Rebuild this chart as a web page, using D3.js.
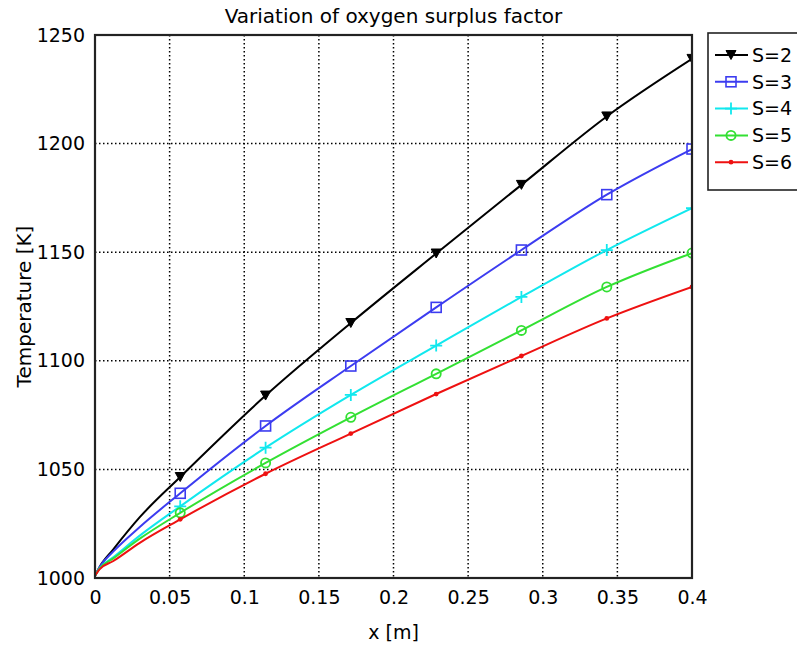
<!DOCTYPE html>
<html>
<head>
<meta charset="utf-8">
<script src="https://cdn.jsdelivr.net/npm/d3@7"></script>
<style>
body { margin: 0; background: #fff; }
text { font-family: "DejaVu Sans", Verdana, sans-serif; fill: #000; }
</style>
</head>
<body>
<script>
// x positions along the tube [m], markers every 0.4/7
var xs = [0, 0.003, 0.012, 0.03, 0.0571, 0.1143, 0.1714, 0.2286, 0.2857, 0.3429, 0.4];
var markerFrom = 4; // first index that carries a marker

var s2 = [1001, 1005, 1013, 1028, 1046.5, 1084, 1117.4, 1149.4, 1181, 1212.5, 1239];
var s3 = [1001, 1005, 1012, 1023.5, 1039, 1070, 1097.6, 1124.6, 1151, 1176.5, 1197.5];
var s4 = [1001, 1004.5, 1009.4, 1019.5, 1033, 1060, 1084.3, 1107, 1129.4, 1151, 1170.3];
var s5 = [1001, 1004.3, 1008.9, 1018.1, 1030, 1053, 1074, 1094, 1114, 1134, 1149.6];
var s6 = [1001, 1004, 1007.7, 1016.2, 1027, 1048, 1066.5, 1084.7, 1102.2, 1119.5, 1134];

var names = ["S=2", "S=3", "S=4", "S=5", "S=6"];
var xTicks = [0, 0.05, 0.1, 0.15, 0.2, 0.25, 0.3, 0.35, 0.4];
var yTicks = [1000, 1050, 1100, 1150, 1200, 1250];

var series = [
  {name: names[0], v: s2, color: "#000000", mark: "tri"},
  {name: names[1], v: s3, color: "#3c3cf0", mark: "sq"},
  {name: names[2], v: s4, color: "#11e8ee", mark: "plus"},
  {name: names[3], v: s5, color: "#33e033", mark: "circ"},
  {name: names[4], v: s6, color: "#ee1111", mark: "dot"}
];

var W = 797, H = 648;
var L = 95, R = 692, T = 35, B = 578;

var x = d3.scaleLinear().domain([0, 0.4]).range([L, R]);
var y = d3.scaleLinear().domain([1000, 1250]).range([B, T]);

var svg = d3.select("body").append("svg")
  .attr("width", W).attr("height", H);

svg.append("defs").append("clipPath").attr("id", "plotclip")
  .append("rect").attr("x", L).attr("y", T).attr("width", R - L).attr("height", B - T);

// grid
var grid = svg.append("g");
grid.selectAll("line.gx")
  .data(xTicks.slice(1, -1))
  .enter().append("line")
    .attr("x1", function(d){ return x(d); }).attr("x2", function(d){ return x(d); })
    .attr("y1", T).attr("y2", B)
    .attr("stroke", "#000").attr("stroke-width", 1.5)
    .attr("stroke-dasharray", "1.5,2.5");
grid.selectAll("line.gy")
  .data(yTicks.slice(1, -1))
  .enter().append("line")
    .attr("y1", function(d){ return y(d); }).attr("y2", function(d){ return y(d); })
    .attr("x1", L).attr("x2", R)
    .attr("stroke", "#000").attr("stroke-width", 1.5)
    .attr("stroke-dasharray", "1.5,2.5");

// axes
var xAxis = d3.axisBottom(x).tickValues(xTicks).tickSize(0).tickPadding(13)
  .tickFormat(function(d){ return String(+d.toFixed(2)); });
var yAxis = d3.axisLeft(y).tickValues(yTicks).tickSize(0).tickPadding(10)
  .tickFormat(d3.format("d"));

var gx = svg.append("g").attr("transform", "translate(0," + B + ")").call(xAxis);
var gy = svg.append("g").attr("transform", "translate(" + L + ",0)").call(yAxis);
[gx, gy].forEach(function(g){
  g.select(".domain").remove();
  g.selectAll("text").style("font-size", "19px").attr("fill", "#000");
});

// curves
var line = d3.line()
  .x(function(d){ return x(d[0]); })
  .y(function(d){ return y(d[1]); })
  .curve(d3.curveMonotoneX);

var plot = svg.append("g").attr("clip-path", "url(#plotclip)");

function drawMarker(g, type, color, cx, cy) {
  if (type == "tri") {
    g.append("path").attr("d", "M" + (cx - 5) + "," + (cy - 4.5) + "L" + (cx + 5) + "," + (cy - 4.5) + "L" + cx + "," + (cy + 4.5) + "Z")
      .attr("fill", color).attr("stroke", color).attr("stroke-width", 1);
  } else if (type == "sq") {
    g.append("rect").attr("x", cx - 5).attr("y", cy - 5).attr("width", 10).attr("height", 10)
      .attr("fill", "none").attr("stroke", color).attr("stroke-width", 1.6);
  } else if (type == "plus") {
    g.append("path").attr("d", "M" + (cx - 6) + "," + cy + "H" + (cx + 6) + "M" + cx + "," + (cy - 6) + "V" + (cy + 6))
      .attr("stroke", color).attr("stroke-width", 1.8);
  } else if (type == "circ") {
    g.append("circle").attr("cx", cx).attr("cy", cy).attr("r", 4.6)
      .attr("fill", "none").attr("stroke", color).attr("stroke-width", 1.8);
  } else {
    g.append("circle").attr("cx", cx).attr("cy", cy).attr("r", 2.4)
      .attr("fill", color);
  }
}

series.forEach(function(s){
  var pts = xs.map(function(xv, i){ return [xv, s.v[i]]; });
  plot.append("path")
    .attr("d", line(pts))
    .attr("fill", "none")
    .attr("stroke", s.color)
    .attr("stroke-width", 2);
  pts.slice(markerFrom).forEach(function(p){
    drawMarker(plot, s.mark, s.color, x(p[0]), y(p[1]));
  });
});

// frame
svg.append("rect")
  .attr("x", L).attr("y", T).attr("width", R - L).attr("height", B - T)
  .attr("fill", "none").attr("stroke", "#222").attr("stroke-width", 2.2);

// titles
svg.append("text").attr("x", (L + R) / 2).attr("y", 23)
  .attr("text-anchor", "middle").style("font-size", "20px")
  .text("Variation of oxygen surplus factor");
svg.append("text").attr("x", (L + R) / 2).attr("y", 639)
  .attr("text-anchor", "middle").style("font-size", "19px")
  .text("x [m]");
svg.append("text")
  .attr("transform", "translate(31," + ((T + B) / 2) + ") rotate(-90)")
  .attr("text-anchor", "middle").style("font-size", "20px")
  .text("Temperature [K]");

// legend
var leg = svg.append("g");
leg.append("rect").attr("x", 708).attr("y", 33).attr("width", 120).attr("height", 157)
  .attr("fill", "#fff").attr("stroke", "#222").attr("stroke-width", 1.6);
series.forEach(function(s, i){
  var ly = 55 + i * 26.8;
  leg.append("line").attr("x1", 715).attr("x2", 748).attr("y1", ly).attr("y2", ly)
    .attr("stroke", s.color).attr("stroke-width", 2);
  drawMarker(leg, s.mark, s.color, 731, ly);
  leg.append("text").attr("x", 752).attr("y", ly).attr("dy", "0.36em")
    .style("font-size", "19px").text(s.name);
});
</script>
</body>
</html>
